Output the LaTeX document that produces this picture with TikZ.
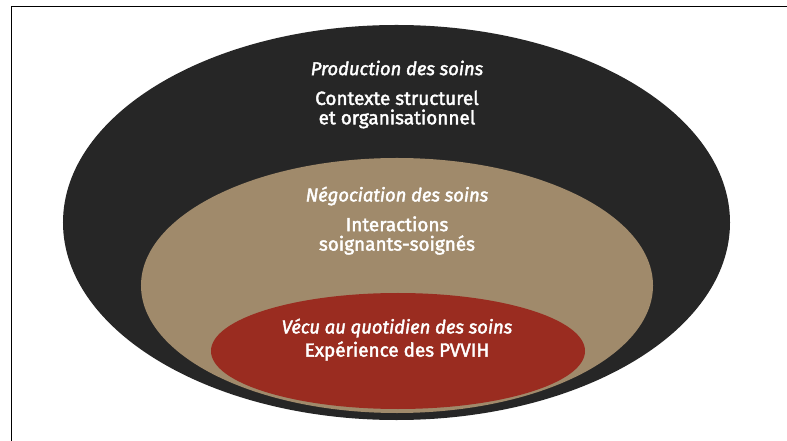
\documentclass[tikz,border=0pt]{standalone}
\usepackage{fontspec}
\setmainfont{Fira Sans}
\newfontfamily\ttlfont{Fira Sans}[ItalicFeatures={FakeBold=2.2}]
\newfontfamily\subfont{Fira Sans}[FakeBold=2.2]
\usetikzlibrary{shapes.geometric}
\definecolor{outerc}{HTML}{262626}
\definecolor{midc}{HTML}{A08A6B}
\definecolor{innerc}{HTML}{9A2C20}
\tikzset{
  ring/.style={ellipse, draw=none, inner sep=0pt},
  ttl/.style={text=white, font=\ttlfont\fontsize{18.5}{19}\selectfont\itshape, align=center},
  sub/.style={text=white, font=\subfont\fontsize{19}{19.5}\selectfont, align=center},
}
\begin{document}
\begin{tikzpicture}[x=1bp,y=-1bp]
\useasboundingbox (0,0) rectangle (787,441);
\fill[white] (0,0) rectangle (787,441);
\draw[line width=1.2bp] (11.5,441) -- (11.5,6.5) -- (787,6.5);
\node[ring, fill=outerc, minimum width=667bp, minimum height=395bp] (outer) at (396.5,222.5) {};
\node[ring, fill=midc, minimum width=512bp, minimum height=255bp] (mid) at (397,285.5) {};
\node[ring, fill=innerc, minimum width=374bp, minimum height=116bp] (inner) at (398,351) {};
\node[ttl] (t1) at (397,68) {Production des soins};
\node[sub] (s1) at (397,109.5) {Contexte structurel\\et organisationnel};
\node[ttl] (t2) at (397,196) {Négociation des soins};
\node[sub] (s2) at (397,235.5) {Interactions\\soignants-soignés};
\node[ttl] (t3) at (397,328) {Vécu au quotidien des soins};
\node[sub] (s3) at (397,351) {Expérience des PVVIH};
\end{tikzpicture}
\end{document}
